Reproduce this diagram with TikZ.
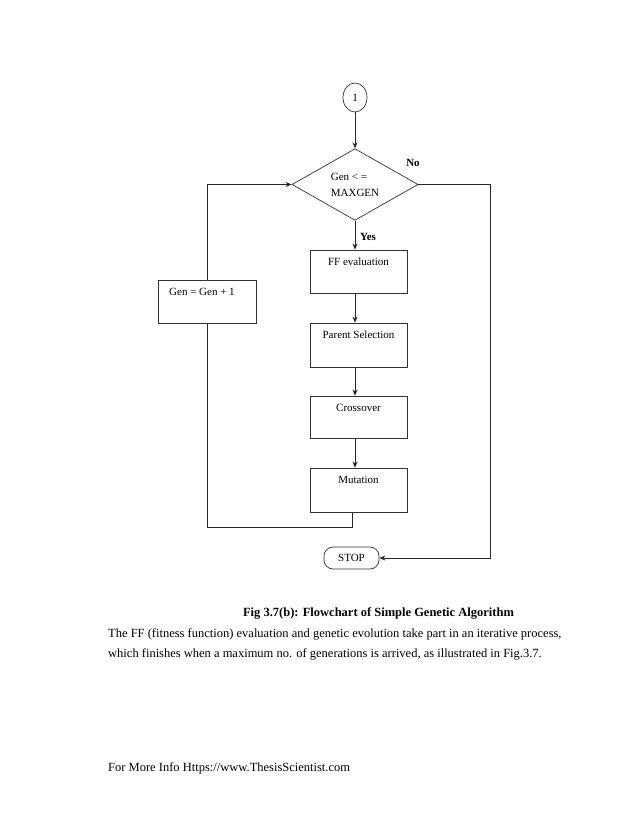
\documentclass[tikz,border=0pt]{standalone}
\usepackage{fontspec}
\setmainfont{Liberation Serif}
\usetikzlibrary{shapes.geometric,arrows.meta,calc}
\begin{document}
\begin{tikzpicture}[x=1pt,y=-1pt,
  line/.style={draw=black!85, line width=0.8pt},
  arr/.style={line, -{Stealth[length=6pt,width=5pt]}},
  fnt/.style={font=\fontsize{11}{16}\selectfont},
  box/.style={draw=black!80, line width=0.7pt, minimum width=97pt, inner sep=0pt},
  intext/.style={fnt, anchor=north, yshift=-5pt},
  bodytext/.style={font=\fontsize{12.5}{15}\selectfont, anchor=base west, inner sep=0pt}
]
\useasboundingbox (0,0) rectangle (638,826);
\fill[white] (0,0) rectangle (638,826);

% connector circle
\node[ellipse, draw=black!80, line width=0.7pt, minimum width=24pt, minimum height=29pt, inner sep=0pt, fnt] (c1) at (355,97.5) {1};

% decision
\node[diamond, draw=black!80, line width=0.7pt, minimum width=126pt, minimum height=65pt, inner sep=0pt, fnt, align=left] (D) at (355,184.5) {Gen < =\\MAXGEN};

% process boxes
\node[box, minimum height=43pt, label={[intext]north:FF evaluation}] (FF) at (358.5,271.5) {};
\node[box, minimum height=44pt, label={[intext]north:Parent Selection}] (PS) at (358.5,345) {};
\node[box, minimum height=42pt, label={[intext]north:Crossover}] (CO) at (358.5,417) {};
\node[box, minimum height=44pt, label={[intext]north:Mutation}] (MU) at (358.5,490) {};
\node[box, minimum width=98pt, minimum height=43pt, label={[fnt, anchor=north west, xshift=8pt, yshift=-5pt]north west:Gen = Gen + 1}] (GG) at (207,301.5) {};

% stop
\node[draw=black!80, line width=0.7pt, rounded corners=9pt, minimum width=55pt, minimum height=22pt, inner sep=0pt, fnt] (ST) at (351.5,558) {STOP};

% branch labels
\node[fnt, font=\fontsize{11}{13}\selectfont\bfseries] (no) at (413,163) {No};
\node[fnt, font=\fontsize{11}{13}\selectfont\bfseries] (yes) at (368,237) {Yes};

% connectors
\draw[arr] (c1.south) -- (D.north);
\draw[arr] (D.south) -- (D.south |- FF.north);
\draw[arr] (D.south |- FF.south) -- (D.south |- PS.north);
\draw[arr] (D.south |- PS.south) -- (D.south |- CO.north);
\draw[arr] (D.south |- CO.south) -- (D.south |- MU.north);

\coordinate (mb) at ($(MU.south)+(-6.5,0)$);
\draw[line] (mb) -- ++(0,15) -| (GG.south);
\draw[arr] (GG.north) |- (D.west);

\coordinate (rt) at (490,184.5);
\draw[arr] (D.east) -- (rt) |- (ST.east);

% caption and text
\node[font=\fontsize{12.5}{15}\selectfont\bfseries, anchor=base, inner sep=0pt] (cap) at (378.5,616) {Fig 3.7(b): Flowchart of Simple Genetic Algorithm};
\node[bodytext] (p1) at (108,637) {The FF (fitness function) evaluation and genetic evolution take part in an iterative process,};
\node[bodytext] (p2) at (108,657) {which finishes when a maximum no. of generations is arrived, as illustrated in Fig.3.7.};
\node[bodytext] (ft) at (108,771) {For More Info Https://www.ThesisScientist.com};
\end{tikzpicture}
\end{document}
